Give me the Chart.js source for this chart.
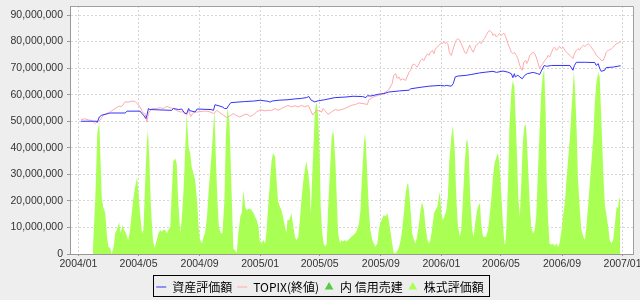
<!DOCTYPE html>
<html>
<head>
<meta charset="utf-8">
<script src="https://cdn.jsdelivr.net/npm/chart.js"></script>
<style>
  html, body { margin: 0; padding: 0; background: #eeeeee; }
  canvas { display: block; }
</style>
</head>
<body>
<canvas id="c" width="640" height="300"></canvas>
<script>
// ---- Data (x = days since 2004-01-01, values in million yen) ----
const xTickDays   = [0, 121, 244, 366, 486, 609, 731, 851, 974, 1096];
const xTickLabels = ['2004/01','2004/05','2004/09','2005/01','2005/05','2005/09','2006/01','2006/05','2006/09','2007/01'];
const yTickValues = [0, 10000000, 20000000, 30000000, 40000000, 50000000, 60000000, 70000000, 80000000, 90000000];

const seriesNames = ['資産評価額', 'TOPIX(終値)', '内 信用売建', '株式評価額'];

// 資産評価額
const assetDays = [
  5,37,38,42,47,60,64,94,98,124,
  128,131,136,138,141,144,188,191,202,208,
  214,218,222,224,235,239,267,272,275,283,
  291,294,299,302,307,334,353,366,382,386,
  390,402,422,436,449,459,464,469,476,483,
  496,517,537,553,572,579,582,589,605,615,
  625,646,666,669,686,706,729,737,741,751,
  755,759,764,781,791,808,821,835,842,855,
  865,872,875,878,880,885,889,894,899,904,
  916,925,929,932,938,943,953,990,993,996,
  999,1003,1021,1040,1043,1047,1050,1053,1060,1063,
  1077,1092];
const assetM = [
  50,50,49.6,51.6,52.3,52.9,53.1,53.1,53.8,53.8,
  52.9,52.3,51,52.3,54.8,54.4,54.1,54.8,54.4,54.6,
  53,52.9,54.8,54,53.5,54.6,54.4,54.1,56.2,55.8,
  55.3,54.8,54.8,55.8,57,57.4,57.6,57.9,57.5,57.2,
  57.6,57.9,58.1,58.4,58.6,58.9,59.3,57.9,57.3,57.7,
  58.1,58.9,59.1,59.4,59.3,58.9,59.6,59.5,60.2,60.4,
  61,61.4,61.7,62.2,62.7,63.2,63.5,63.3,63.5,63.2,
  64.2,66.7,67,67.3,67.6,68.2,68.5,68.8,68.4,68.9,
  68.5,67.9,66.4,67.9,66.7,67.3,66.7,66,67.3,67.9,
  68.4,67.9,67.6,68.8,71,70.7,71,71,70.1,69.2,
  71,72.2,72.2,72.1,71,71.7,69.8,68.8,69.2,70.2,
  70.4,70.9];

// TOPIX(終値)
const topixDays = [
  5,13,20,27,34,38,44,50,57,64,
  74,81,87,94,101,108,114,118,124,130,
  134,138,141,148,158,165,171,178,185,191,
  198,205,212,218,222,226,232,239,245,252,
  259,265,272,279,285,292,299,306,312,319,
  325,332,339,346,353,359,366,376,382,389,
  396,402,409,416,422,429,436,443,449,456,
  463,469,472,476,483,490,493,496,503,510,
  517,523,530,537,543,550,558,565,575,582,
  585,592,598,605,612,619,625,632,635,639,
  642,646,649,652,659,662,666,669,672,676,
  679,682,686,689,692,696,699,703,706,709,
  713,716,719,723,726,729,733,736,739,741,
  744,747,751,754,758,761,764,768,771,774,
  778,781,785,788,791,795,798,801,805,808,
  811,815,818,821,825,828,832,835,838,842,
  845,848,852,855,858,862,865,868,872,875,
  878,882,885,889,892,894,897,901,903,906,
  909,912,916,919,922,925,929,932,936,939,
  943,946,949,953,956,959,963,966,969,973,
  976,980,983,986,990,993,996,999,1003,1006,
  1010,1013,1017,1020,1023,1027,1030,1033,1037,1040,
  1043,1047,1050,1053,1057,1060,1063,1067,1070,1074,
  1077,1080,1084,1087,1090,1092];
const topixM = [
  50.6,50.9,50.5,50.3,49.1,49.8,50.5,52.3,52.9,53.5,
  54.8,55.6,55.6,57.3,57.2,57.6,57.5,56.7,55.4,53.1,
  52.9,49.7,53.1,54.8,54.8,55.1,54.8,55.6,55.1,54.8,
  54,53.5,53.6,52.3,54.1,51.8,53.3,53.5,53.6,53.8,
  53.8,53.5,52.9,54.1,53.2,52.3,51.4,52.1,52.9,52.1,
  51.6,52.3,52.7,51.8,52.5,53.5,54.3,53.9,54.1,54.1,
  54.8,54.1,54.8,55.4,56,55.4,55.8,55.4,56,55.4,
  56,53.5,52.3,53.5,54.1,53.5,54.8,54.1,52.6,53.5,
  54.4,54.1,54.4,54.8,55.4,56,56.3,56.9,56.6,56.3,
  58.1,58.9,59.4,59.8,60.2,61,61.9,64.2,67.3,67.9,
  66.2,66.6,65.4,66,65.4,66.7,68.5,69.2,71,71.6,
  71,70.4,71.6,72.9,73.5,72.9,74.2,75.4,74.8,76,
  76.7,75.4,77.3,77.9,78.6,79.2,79.4,79.8,79.2,79.8,
  79.2,76,74.8,76.7,79.2,80.5,81.1,80.5,79.2,77.9,
  76,75.4,77.3,78.6,77.3,76,77.3,78.6,79.2,79.8,
  79.2,80.5,81.1,82.3,83.6,84.2,83.6,82.3,82.9,81.7,
  82.3,83,82.3,83,83,81.1,79.2,77.9,76,75.4,
  76,74.8,73.6,71,69.8,69.2,72.3,72.9,71.7,72.9,
  74.8,75.4,76,75.4,74.2,72.3,69.8,71,71.7,72.9,
  73.6,74.8,74.2,76,77.3,77.9,76.7,77.3,78.2,77.3,
  77.9,76.7,76,75.4,74.8,74.2,73.6,75.4,76.7,77.3,
  76.9,77.9,78.6,78.2,78.6,79.2,78.6,77.9,76.7,76,
  74.8,74.2,73.6,72.9,72.9,74.2,76,76.7,76.9,77.3,
  77.9,78.6,79.2,79.4,79.8,79.8];

// 内 信用売建
const shortDays = [29, 1091];
const shortM = [0, 0];

// 株式評価額
const stockDays = [
  29,30,34,38,42,47,50,54,57,60,
  64,67,71,74,77,82,85,89,92,96,
  100,103,106,110,114,118,121,124,128,131,
  134,138,140,143,146,150,153,158,161,165,
  168,171,175,178,181,185,188,191,195,198,
  201,205,208,212,215,218,222,225,228,232,
  235,239,242,245,249,252,255,259,262,265,
  269,272,274,277,280,283,287,290,294,297,
  300,304,307,310,312,316,319,322,326,329,
  332,336,339,343,346,349,353,356,359,363,
  365,369,372,376,379,382,386,389,392,396,
  399,402,406,409,412,416,419,421,425,429,
  433,436,439,443,446,449,453,456,459,463,
  466,468,471,474,476,478,480,483,486,488,
  491,494,497,500,503,507,510,513,515,518,
  521,523,527,530,533,537,540,543,547,550,
  558,561,565,568,571,575,577,579,582,585,
  588,592,595,598,602,605,608,612,615,619,
  622,625,629,632,635,639,642,646,649,652,
  656,659,662,664,667,670,672,676,679,682,
  686,689,692,696,699,703,706,709,713,716,
  719,723,726,728,731,734,737,741,744,747,
  751,754,758,761,764,768,771,774,778,781,
  783,786,789,793,796,799,803,806,809,811,
  815,818,821,825,828,832,835,838,842,845,
  848,852,855,858,860,863,866,868,872,875,
  878,880,883,886,889,892,895,898,901,903,
  906,909,912,916,919,922,925,929,932,935,
  938,941,943,946,949,953,956,959,963,966,
  969,973,976,980,983,986,990,993,996,998,
  1001,1004,1006,1010,1013,1017,1020,1023,1027,1030,
  1033,1037,1040,1043,1047,1050,1053,1057,1060,1063,
  1067,1070,1074,1077,1080,1084,1087,1089,1091];
const stockM = [
  0,5.3,21,45.5,49.7,21,17.7,15.3,7.8,2.7,
  2.3,0,2.7,7.8,9,12,7.8,10.9,9,7.8,
  5.3,7.8,12.8,20,25,29,23,15.4,7.8,9,
  25,42.9,46.6,35,17.7,5.3,2.3,5.3,7.8,9,
  8.4,9,9,7.8,9,10.3,23,35,36,34,
  20,7.8,12.8,25,39,53,40,38,33,30,
  28,20,10.3,5.3,4,6.5,7.8,14,23,30,
  40,49,54,35,20,10,7.8,7.8,20,45,
  55,50,33,14,2,1.3,0.5,7.8,14,15.5,
  24,17.7,16.5,17,17,16.5,15.3,14,12.8,10,
  5.3,4,5.3,4,9,17.7,28,35,38,36.6,
  28,20,17.7,16.5,14,10.3,7.8,12.8,12.8,15.3,
  10.3,6.5,5.3,6.5,12.8,20,27.8,31.5,35,30,
  25,15,30,43,53,56,57,51.6,36.6,17.7,
  7.8,4,2.7,4,17.7,33,44,46.6,42.9,33,
  17.7,7.8,4,5.3,4.7,5.3,4.7,5.3,5.9,6.5,
  7.8,9,11.5,16.5,29,41.7,45.5,41.7,29,16.5,
  9,5.3,4,2.7,4,9,11.5,13.4,14.7,14.1,
  15.5,12.8,7.8,4,0.3,0.3,1,2.7,5.3,9,
  16.5,22.9,26,26.8,21.5,14,7.8,5.3,4,6.5,
  11.5,16.5,19.7,16.5,10.3,5.3,4,5.3,10.3,15.3,
  16.5,17.8,21.5,23.4,15.3,12.8,14,16.5,21.5,35,
  44,48.5,39,21.5,11.5,6.5,9,19,34,41.7,
  43.6,39,21.5,9,6.5,11.5,16.5,18.4,19,11.5,
  6.5,6.5,6.5,9,14,21.5,29,34,36.6,38,
  34,21.5,11.5,4,4,14,31.5,47.8,61.6,65.4,
  62.9,54,39,21.5,14,26.8,41.7,47.8,49,44,
  31.5,19,10,7.8,9,14,29,47,60.4,66.7,
  69.8,54,29,12.8,4,3.5,4,3,4,2.5,
  4,9,14,20,28,35,44,54,63,69,
  59,44,29,16.5,9,6.5,5.3,10.3,19,26.6,
  34,44,56.6,64,68.5,66.7,51.6,31.5,19,15.3,
  10.3,5.3,4,5.3,10.3,17.8,17.2,21.5,20.2];

// ---- build ----
const toPts = (days, vals) => days.map((d, i) => ({ x: d, y: vals[i] * 1e6 }));

const LEG_PAD = 5;
const tickFont = { family: "'Liberation Sans', Arial, sans-serif", size: 10.5 };

const bgPlugin = {
  id: 'bg',
  beforeDraw(chart) {
    const { ctx, chartArea: a } = chart;
    ctx.save();
    ctx.fillStyle = '#ffffff';
    ctx.fillRect(a.left, a.top, a.right - a.left, a.bottom - a.top);
    ctx.restore();
  },
  afterLayout(chart) {
    const lg = chart.legend;
    lg.top += 3; lg.bottom += 3;
    lg.left += 3.5; lg.right += 3.5;
  },
  afterDraw(chart) {
    const { ctx, chartArea: a } = chart;
    ctx.save();
    ctx.strokeStyle = '#a0a0a0';
    ctx.lineWidth = 1;
    ctx.beginPath();
    ctx.moveTo(Math.round(a.left) + 0.5, Math.round(a.top) + 0.5);
    ctx.lineTo(Math.round(a.right) + 0.5, Math.round(a.top) + 0.5);
    ctx.lineTo(Math.round(a.right) + 0.5, Math.round(a.bottom) + 0.5);
    ctx.stroke();
    // legend frame
    const lg = chart.legend;
    const total = lg.lineWidths[0] - LEG_PAD;
    const x0 = (lg.left + LEG_PAD + lg.right - lg.lineWidths[0]) / 2;
    const cy = lg.top + LEG_PAD + 6;
    const L = Math.round(x0 - 3) + 0.5, R = Math.round(x0 + total + 5) + 0.5;
    const T = Math.round(cy - 12) + 0.5, B = Math.round(cy + 9) + 0.5;
    ctx.strokeStyle = '#000000';
    ctx.strokeRect(L, T, R - L, B - T);
    ctx.restore();
  }
};

new Chart(document.getElementById('c'), {
  type: 'line',
  data: {
    datasets: [
      { label: seriesNames[0], data: toPts(assetDays, assetM), borderColor: '#3333ff', backgroundColor: '#3333ff',
        borderWidth: 1, fill: false, pointStyle: 'line' },
      { label: seriesNames[1], data: toPts(topixDays, topixM), borderColor: '#ffaaaa', backgroundColor: '#ffaaaa',
        borderWidth: 1, fill: false, pointStyle: 'line' },
      { label: seriesNames[2], data: toPts(shortDays, shortM), borderColor: '#55cc44', backgroundColor: '#55cc44',
        borderWidth: 0, fill: 'origin', pointStyle: 'triangle' },
      { label: seriesNames[3], data: toPts(stockDays, stockM), borderColor: '#aaff55', backgroundColor: '#aaff55',
        borderWidth: 0, fill: 'origin', pointStyle: 'triangle' }
    ]
  },
  options: {
    responsive: false,
    devicePixelRatio: 1,
    animation: false,
    events: [],
    layout: { padding: { top: 6, right: 7, left: 0, bottom: 0 } },
    elements: { point: { radius: 0 }, line: { tension: 0 } },
    scales: {
      x: {
        type: 'linear', min: -17, max: 1117,
        afterBuildTicks(s) { s.ticks = xTickDays.map(v => ({ value: v })); },
        afterFit(s) { s.height = 19; s.paddingLeft = 0; s.paddingRight = 0; },
        ticks: { callback: (v, i) => xTickLabels[i], autoSkip: false, maxRotation: 0, minRotation: 0,
                 padding: 2, color: '#333333', font: tickFont },
        grid: { color: '#d6d6d6', tickLength: 2, tickColor: '#999999', tickBorderDash: [] },
        border: { color: '#999999', width: 1, dash: [2, 2] }
      },
      y: {
        min: 0, max: 93400000,
        afterBuildTicks(s) { s.ticks = yTickValues.map(v => ({ value: v })); },
        afterFit(s) { s.width = 70; s.paddingTop = 0; s.paddingBottom = 0; },
        ticks: { callback: v => v.toLocaleString('en-US'), padding: 4, color: '#333333', font: tickFont },
        grid: { color: '#d6d6d6', tickLength: 3, tickColor: '#999999', tickBorderDash: [] },
        border: { color: '#999999', width: 1, dash: [2, 2] }
      }
    },
    plugins: {
      tooltip: { enabled: false },
      legend: {
        position: 'bottom',
        labels: {
          usePointStyle: true, pointStyleWidth: 10, boxHeight: 7, padding: LEG_PAD,
          color: '#000000',
          font: { family: "'Noto Sans CJK JP', 'Liberation Sans', sans-serif", size: 12 }
        }
      }
    }
  },
  plugins: [bgPlugin]
});
</script>
</body>
</html>
